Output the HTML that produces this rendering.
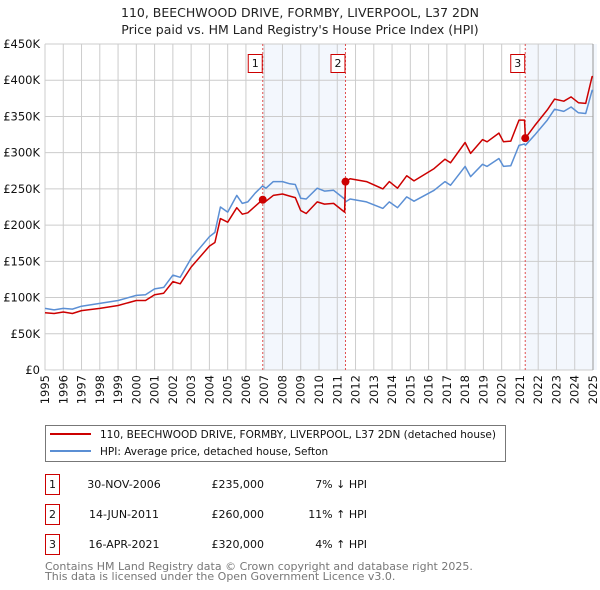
<!DOCTYPE html>
<html><head><meta charset="utf-8"><style>
body{margin:0;background:#fff;}
svg{display:block;font-family:"DejaVu Sans","Liberation Sans",sans-serif;}
</style></head><body>
<svg id="chart" width="600" height="590" viewBox="0 0 600 590">
<text x="300" y="17" text-anchor="middle" font-size="12.5" fill="#222">110, BEECHWOOD DRIVE, FORMBY, LIVERPOOL, L37 2DN</text>
<text x="300" y="34" text-anchor="middle" font-size="12.5" fill="#222">Price paid vs. HM Land Registry's House Price Index (HPI)</text>
<g id="plot"></g>
<g>
<rect x="45.5" y="425.5" width="460" height="36" fill="#fff" stroke="#777"/>
<line x1="50" y1="434" x2="91" y2="434" stroke="#cc0000" stroke-width="2"/>
<text x="100" y="438" font-size="10.5" fill="#111" textLength="396">110, BEECHWOOD DRIVE, FORMBY, LIVERPOOL, L37 2DN (detached house)</text>
<line x1="50" y1="451" x2="91" y2="451" stroke="#5b8fd4" stroke-width="2"/>
<text x="100" y="455" font-size="10.5" fill="#111">HPI: Average price, detached house, Sefton</text>
</g>
<g id="table" font-size="11" fill="#111"></g>
<text x="45" y="570" font-size="11" fill="#777">Contains HM Land Registry data © Crown copyright and database right 2025.</text>
<text x="45" y="580" font-size="11" fill="#777">This data is licensed under the Open Government Licence v3.0.</text>
</svg>
<script>
const dates=[1995.0,1995.5,1996.0,1996.5,1997.0,1998.0,1999.0,2000.0,2000.5,2001.0,2001.5,2002.0,2002.4,2003.0,2004.0,2004.3,2004.6,2005.0,2005.5,2005.8,2006.1,2006.5,2006.9,2007.1,2007.5,2008.0,2008.4,2008.7,2009.0,2009.3,2009.9,2010.3,2010.8,2011.4,2011.45,2011.7,2012.6,2013.5,2013.85,2014.3,2014.8,2015.2,2016.3,2016.9,2017.2,2018.0,2018.3,2018.95,2019.2,2019.85,2020.1,2020.5,2020.95,2021.25,2021.3,2021.8,2022.5,2022.9,2023.4,2023.8,2024.2,2024.6,2024.95,2025.0];
const hpiValues=[85,83,85,84,88,92,96,103,104,112,114,131,128,154,184,190,225,218,241,230,232,244,254,251,260,260,257,256,237,236,251,247,248,236,232,236,232,223,232,224,239,233,248,260,255,281,267,284,281,292,281,282,310,312,310,324,345,360,357,363,355,354,386,385];
const priceValues=[79,78,80,78,82,85,89,96,96,104,106,122,119,142,171,176,209,204,224,215,217,226,235,233,241,243,240,238,220,216,232,229,230,218,260,264,260,250,260,251,268,261,278,291,286,314,299,318,315,327,315,316,345,345,320,337,359,374,371,377,369,368,405,405];
const saleDates=[2006.92,2011.45,2021.29];
const salePrices=[235,260,320];
const saleLabels=["1","2","3"];
const saleDateText=["30-NOV-2006","14-JUN-2011","16-APR-2021"];
const salePriceText=["£235,000","£260,000","£320,000"];
const saleHpiText=["7% ↓ HPI","11% ↑ HPI","4% ↑ HPI"];
const yTicks=[0,50,100,150,200,250,300,350,400,450];
const yTickLabels=["£0","£50K","£100K","£150K","£200K","£250K","£300K","£350K","£400K","£450K"];
const xYears=[1995,1996,1997,1998,1999,2000,2001,2002,2003,2004,2005,2006,2007,2008,2009,2010,2011,2012,2013,2014,2015,2016,2017,2018,2019,2020,2021,2022,2023,2024,2025];

const NS="http://www.w3.org/2000/svg";
const L=45,R=593,T=44,B=370;
const xs=d=>L+(d-1995)/30*(R-L);
const ys=v=>B-v/450*(B-T);
const plot=document.getElementById('plot');
function mk(tag,attrs,parent){const e=document.createElementNS(NS,tag);for(const k in attrs)e.setAttribute(k,attrs[k]);(parent||plot).appendChild(e);return e;}

let e;
e=mk('rect',{x:xs(saleDates[0]),y:T,width:xs(saleDates[1])-xs(saleDates[0]),height:B-T,fill:'#eef3fc',opacity:0.7});


e=mk('rect',{x:xs(saleDates[2]),y:T,width:R+4-xs(saleDates[2]),height:B-T,fill:'#eef3fc',opacity:0.7});


yTicks.forEach((v,i)=>{
 e=mk('line',{x1:L,x2:R,y1:ys(v),y2:ys(v),stroke:'#cccccc','stroke-width':1});
 
 
 e=mk('text',{x:40,y:ys(v)+4,'text-anchor':'end','font-size':11.5,fill:'#111'});
 e.textContent=yTickLabels[i];
 
 
});
xYears.forEach(y=>{
 e=mk('line',{x1:xs(y),x2:xs(y),y1:T,y2:B,stroke:'#cccccc','stroke-width':1});
 
 
 const tx=xs(y)+4,ty=B+5;
 e=mk('text',{x:tx,y:ty,'text-anchor':'end','font-size':11.5,fill:'#111',transform:`rotate(-90 ${tx} ${ty})`});
 e.textContent=y;
 
 
});
e=mk('line',{x1:R,x2:R,y1:T,y2:B,stroke:'#999','stroke-width':1});


saleDates.forEach((d,i)=>{
 e=mk('line',{x1:xs(d),x2:xs(d),y1:T,y2:B,stroke:'#e05050','stroke-width':1,'stroke-dasharray':'2,2'});
 
 
 e=mk('rect',{x:xs(d)-14.5,y:54.5,width:14,height:18,fill:'#fff',stroke:'#cc0000'});
 
 
 e=mk('text',{x:xs(d)-7.5,y:67,'text-anchor':'middle','font-size':11,fill:'#111'});
 e.textContent=saleLabels[i];
 
 
});
function path(vals){return vals.map((v,i)=>(i?'L':'M')+xs(dates[i]).toFixed(1)+','+ys(v).toFixed(1)).join('');}
e=mk('path',{d:path(hpiValues),fill:'none',stroke:'#5b8fd4','stroke-width':1.5,'stroke-linejoin':'round'});


e=mk('path',{d:path(priceValues),fill:'none',stroke:'#cc0000','stroke-width':1.5,'stroke-linejoin':'round'});


saleDates.forEach((d,i)=>{
 e=mk('circle',{cx:xs(d),cy:ys(salePrices[i]),r:4,fill:'#cc0000'});
 
 
});
const tbl=document.getElementById('table');
saleLabels.forEach((lab,i)=>{
 const cy=483+i*30;
 e=mk('rect',{x:45.5,y:cy-8.5,width:14,height:20,fill:'#fff',stroke:'#cc0000'},tbl);
 
 
 e=mk('text',{x:52.5,y:cy+5,'text-anchor':'middle'},tbl);e.textContent=lab;
 
 
 e=mk('text',{x:124,y:cy+5,'text-anchor':'middle'},tbl);e.textContent=saleDateText[i];
 
 
 e=mk('text',{x:264,y:cy+5,'text-anchor':'end'},tbl);e.textContent=salePriceText[i];
 
 
 e=mk('text',{x:367,y:cy+5,'text-anchor':'end'},tbl);e.textContent=saleHpiText[i];
 
 
});
</script>
</body></html>
